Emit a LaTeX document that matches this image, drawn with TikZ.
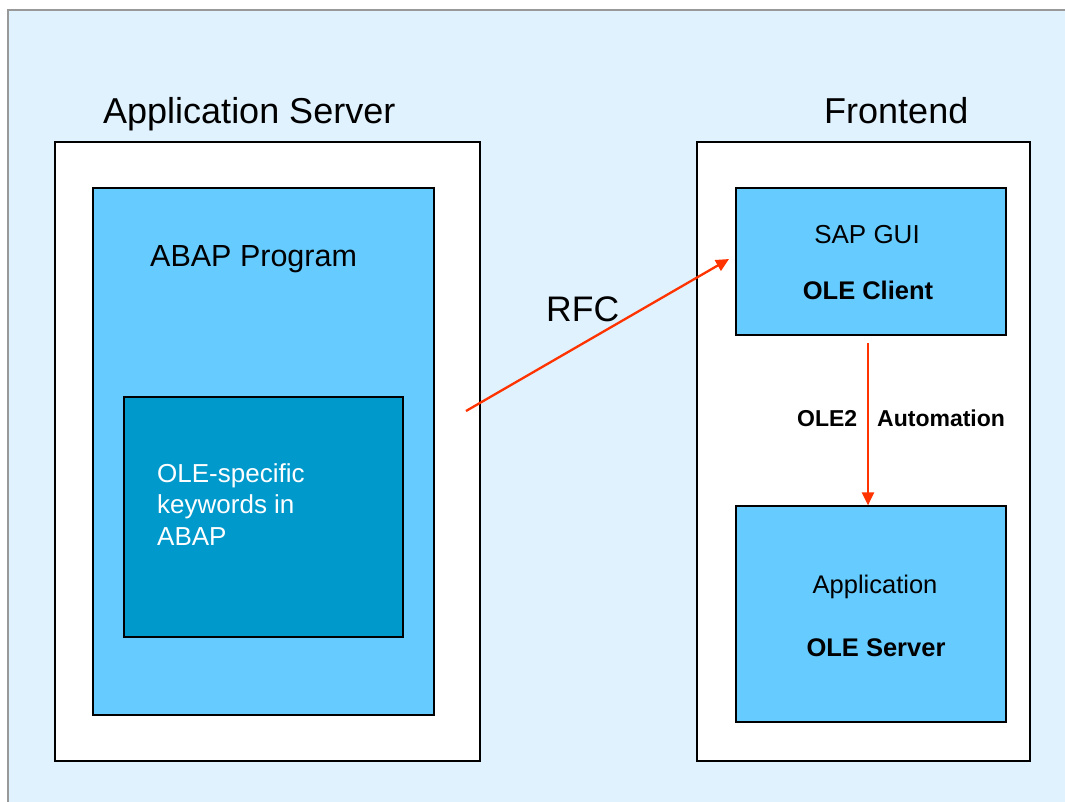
\documentclass[tikz,border=0pt]{standalone}
\usepackage{fontspec}
\setmainfont{Liberation Sans}
\usetikzlibrary{arrows.meta}
\definecolor{bgblue}{RGB}{224,242,254}
\definecolor{midblue}{RGB}{102,204,255}
\definecolor{darkblue}{RGB}{0,153,204}
\definecolor{arrowred}{RGB}{255,51,0}
\tikzset{
  box/.style={draw=black, line width=1.2pt, rectangle, inner sep=0pt},
  txt/.style={inner sep=0pt, text=black},
  conn/.style={draw=arrowred, line width=2.3pt, -{Triangle[length=13pt,width=12pt]}},
}
\begin{document}
\begin{tikzpicture}[x=1pt,y=-1pt]
\useasboundingbox (0,0) rectangle (1065,801);
\fill[white] (0,0) rectangle (1065,801);
\draw[fill=bgblue, draw=gray!80, line width=1.5pt] (8,10) rectangle (1080,815);
% left column
\node[box, fill=white, minimum width=425pt, minimum height=619pt] (appsrv) at (267.5,451.5) {};
\node[box, fill=midblue, minimum width=341pt, minimum height=527pt] (abap) at (263.5,451.5) {};
\node[box, fill=darkblue, minimum width=279pt, minimum height=240pt] (kw) at (263.5,517) {};
% right column
\node[box, fill=white, minimum width=333pt, minimum height=619pt] (fe) at (863.5,451.5) {};
\node[box, fill=midblue, minimum width=270pt, minimum height=147pt] (gui) at (871,261.5) {};
\node[box, fill=midblue, minimum width=270pt, minimum height=216pt] (app) at (871,614) {};
% titles
\node[txt, anchor=base west, font=\fontsize{36}{43}\selectfont] (t1) at (103,123) {Application Server};
\node[txt, anchor=base west, font=\fontsize{36}{43}\selectfont] (t2) at (824,123) {Frontend};
\node[txt, anchor=base west, font=\fontsize{30.5}{36}\selectfont] (t3) at (150,266) {ABAP Program};
\node[txt, anchor=base west, font=\fontsize{35.5}{43}\selectfont] (rfc) at (546,321) {RFC};
\node[txt, anchor=base west, text=white, font=\fontsize{26}{31}\selectfont] (k1) at (157,482) {OLE-specific};
\node[txt, anchor=base west, text=white, font=\fontsize{26}{31}\selectfont] (k2) at (157,513) {keywords in};
\node[txt, anchor=base west, text=white, font=\fontsize{26}{31}\selectfont] (k3) at (157,545) {ABAP};
\node[txt, anchor=base, font=\fontsize{26}{31}\selectfont] (g1) at (867,243) {SAP GUI};
\node[txt, anchor=base, font=\bfseries\fontsize{25.5}{31}\selectfont] (g2) at (868,299) {OLE Client};
\node[txt, anchor=base west, font=\bfseries\fontsize{23}{28}\selectfont] (o1) at (797,426) {OLE2};
\node[txt, anchor=base west, font=\bfseries\fontsize{23}{28}\selectfont] (o2) at (877,426) {Automation};
\node[txt, anchor=base, font=\fontsize{25.5}{31}\selectfont] (a1) at (875,593) {Application};
\node[txt, anchor=base, font=\bfseries\fontsize{25.5}{31}\selectfont] (a2) at (876,656) {OLE Server};
% connectors
\coordinate (rfcs) at (466,411);
\coordinate (rfce) at (729,259);
\draw[conn] (rfcs) -- (rfce);
\coordinate (ves) at (868,343);
\draw[conn] (ves) -- (ves |- app.north);
\end{tikzpicture}
\end{document}
